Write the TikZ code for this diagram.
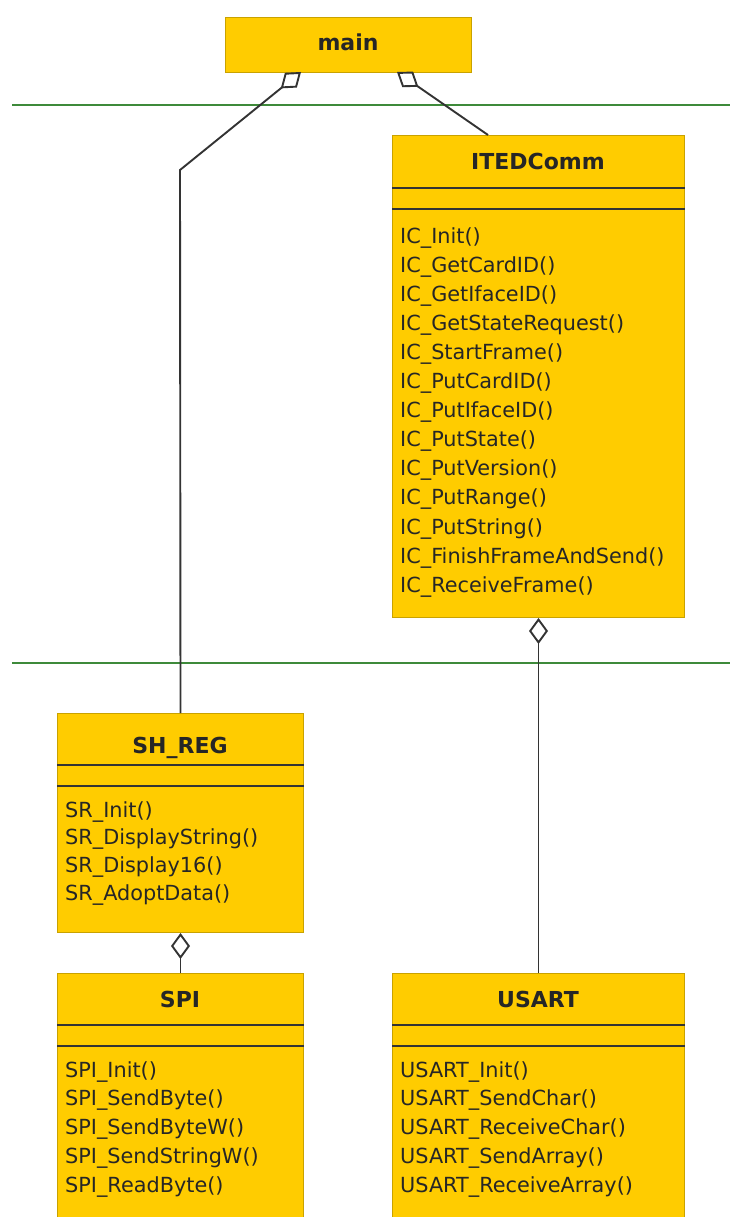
\documentclass[tikz,border=0pt]{standalone}
\usepackage{fontspec}
\setmainfont{DejaVu Sans}
\usetikzlibrary{arrows.meta}
\definecolor{umlgold}{HTML}{FFCC00}
\definecolor{umledge}{HTML}{C9A200}
\definecolor{pkggreen}{HTML}{3E8A3A}
\definecolor{linegray}{HTML}{333333}
\tikzset{
    classbox/.style={draw=umledge,fill=umlgold,line width=1pt,inner sep=0pt,anchor=north west},
    classtitle/.style={anchor=base,inner sep=0pt,font=\bfseries\fontsize{22}{22}\selectfont,text=black!85},
    method/.style={anchor=base west,inner sep=0pt,font=\fontsize{20.8}{20.8}\selectfont,text=black!85},
    sepline/.style={draw=linegray,line width=1.5pt},
    pkgline/.style={draw=pkggreen,line width=1.4pt},
    aggline/.style={draw=linegray,line width=1.9pt,-{Diamond[length=26pt,width=19pt,fill=white]}}
}
\begin{document}
\begin{tikzpicture}[x=1pt,y=-1pt]
    \useasboundingbox (0,0) rectangle (730,1217);
    \clip (0,0) rectangle (730,1217);
    %% Package borders
    \draw[pkgline] (12,105) -- (730,105);
    \draw[pkgline] (12,663) -- (730,663);
    %% main
    \node[classbox,minimum width=246,minimum height=55] (main) at (225,17) {};
    \node[classtitle] (main-title) at (348,51) {main};
    %% ITEDComm
    \node[classbox,minimum width=292,minimum height=482] (itedcomm) at (392,135) {};
    \node[classtitle] (itedcomm-title) at (538,170) {ITEDComm};
    \draw[sepline] ([yshift=-53]itedcomm.north west) -- ([yshift=-53]itedcomm.north east);
    \draw[sepline] ([yshift=-74]itedcomm.north west) -- ([yshift=-74]itedcomm.north east);
    \foreach \m [count=\i from 0] in {IC\_Init(),IC\_GetCardID(),IC\_GetIfaceID(),
        IC\_GetStateRequest(),IC\_StartFrame(),IC\_PutCardID(),IC\_PutIfaceID(),
        IC\_PutState(),IC\_PutVersion(),IC\_PutRange(),IC\_PutString(),
        IC\_FinishFrameAndSend(),IC\_ReceiveFrame()}
        \node[method] (ic-\i) at (400,243+29.1*\i) {\m};
    %% SH_REG
    \node[classbox,minimum width=246,minimum height=219] (shreg) at (57,713) {};
    \node[classtitle] (shreg-title) at (180,753) {SH\_REG};
    \draw[sepline] ([yshift=-52]shreg.north west) -- ([yshift=-52]shreg.north east);
    \draw[sepline] ([yshift=-73]shreg.north west) -- ([yshift=-73]shreg.north east);
    \foreach \m [count=\i from 0] in {SR\_Init(),SR\_DisplayString(),SR\_Display16(),SR\_AdoptData()}
        \node[method] (sr-\i) at (65,817+27.7*\i) {\m};
    %% SPI
    \node[classbox,minimum width=246,minimum height=260] (spi) at (57,973) {};
    \node[classtitle] (spi-title) at (180,1007) {SPI};
    \draw[sepline] ([yshift=-52]spi.north west) -- ([yshift=-52]spi.north east);
    \draw[sepline] ([yshift=-73]spi.north west) -- ([yshift=-73]spi.north east);
    \foreach \m [count=\i from 0] in {SPI\_Init(),SPI\_SendByte(),SPI\_SendByteW(),
        SPI\_SendStringW(),SPI\_ReadByte()}
        \node[method] (spi-\i) at (65,1077+28.8*\i) {\m};
    %% USART
    \node[classbox,minimum width=292,minimum height=260] (usart) at (392,973) {};
    \node[classtitle] (usart-title) at (538,1007) {USART};
    \draw[sepline] ([yshift=-52]usart.north west) -- ([yshift=-52]usart.north east);
    \draw[sepline] ([yshift=-73]usart.north west) -- ([yshift=-73]usart.north east);
    \foreach \m [count=\i from 0] in {USART\_Init(),USART\_SendChar(),USART\_ReceiveChar(),
        USART\_SendArray(),USART\_ReceiveArray()}
        \node[method] (usart-\i) at (400,1077+28.8*\i) {\m};
    %% Aggregations
    \coordinate (main-left) at (301,72);
    \coordinate (main-right) at (397,72);
    \coordinate (shreg-bend) at (180,170);
    \draw[aggline] (shreg.north) -- (shreg-bend) -- (main-left);
    \draw[aggline] ([xshift=96]itedcomm.north west) -- (main-right);
    \draw[aggline] (usart.north) -- (itedcomm.south);
    \draw[aggline] (spi.north) -- (shreg.south);
\end{tikzpicture}
\end{document}
